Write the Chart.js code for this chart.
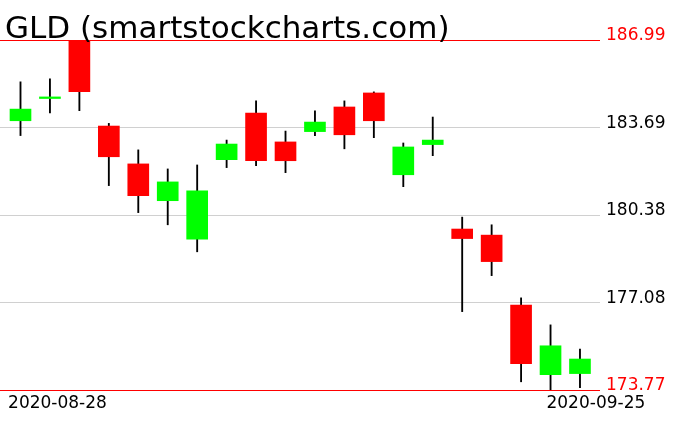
<!DOCTYPE html>
<html>
<head>
<meta charset="utf-8">
<script src="https://cdn.jsdelivr.net/npm/chart.js@4/dist/chart.umd.min.js"></script>
<style>
  html, body { margin: 0; padding: 0; background: #fff; }
  #wrap { width: 676px; height: 431px; }
</style>
</head>
<body>
<div id="wrap"><canvas id="candleChart" width="676" height="431"></canvas></div>
<script>
const titleText = 'GLD (smartstockcharts.com)';

const dates = ['2020-08-28', '2020-08-31', '2020-09-01', '2020-09-02', '2020-09-03',
    '2020-09-04', '2020-09-08', '2020-09-09', '2020-09-10', '2020-09-11',
    '2020-09-14', '2020-09-15', '2020-09-16', '2020-09-17', '2020-09-18',
    '2020-09-21', '2020-09-22', '2020-09-23', '2020-09-24', '2020-09-25'];

const opens  = [183.94, 184.78, 186.99, 183.74, 182.31, 180.92, 179.47, 182.47, 184.23, 183.14,
                183.53, 184.46, 184.99, 181.90, 183.04, 179.85, 179.62, 176.98, 174.35, 174.39];
const highs  = [185.41, 185.52, 186.99, 183.84, 182.84, 182.12, 182.27, 183.21, 184.69, 183.55,
                184.31, 184.69, 185.03, 183.10, 184.08, 180.30, 180.01, 177.25, 176.23, 175.32];
const lows   = [183.38, 184.24, 184.32, 181.49, 180.47, 180.01, 178.99, 182.17, 182.24, 181.98,
                183.38, 182.88, 183.30, 181.45, 182.62, 176.73, 178.09, 174.08, 173.77, 173.86];
const closes = [184.38, 184.84, 185.04, 182.58, 181.11, 181.63, 181.29, 183.06, 182.43, 182.43,
                183.89, 183.41, 183.94, 182.95, 183.21, 179.49, 178.62, 174.76, 175.44, 174.94];

const yTicks = [173.77, 177.08, 180.38, 183.69, 186.99];

const up = '#00ff00';
const down = '#ff0000';

const bodies = dates.map((d, i) => ({ x: i, y: [opens[i], closes[i]] }));
const wicks = dates.map((d, i) => ({ x: i, y: [lows[i], highs[i]] }));
const bodyColors = dates.map((d, i) => closes[i] >= opens[i] ? up : down);

const isEdge = (i) => i === 0 || i === yTicks.length - 1;

const titlePlugin = {
    id: 'chartTitle',
    afterDraw(chart) {
        const c = chart.ctx;
        c.save();
        c.font = '31px "DejaVu Sans", sans-serif';
        c.fillStyle = '#000';
        c.textBaseline = 'alphabetic';
        c.textAlign = 'left';
        c.fillText(titleText, 5, 38);
        c.restore();
    }
};

const ctx = document.getElementById('candleChart').getContext('2d');

new Chart(ctx, {
    type: 'bar',
    data: {
        datasets: [{
            label: 'body',
            data: bodies,
            backgroundColor: bodyColors,
            borderWidth: 0,
            barThickness: 21,
            grouped: false
        }, {
            label: 'wick',
            data: wicks,
            backgroundColor: '#000',
            borderWidth: 0,
            barThickness: 1.2,
            grouped: false
        }]
    },
    options: {
        responsive: false,
        animation: false,
        layout: { padding: { top: 40, left: 0, right: 0, bottom: 0 } },
        plugins: {
            legend: { display: false },
            tooltip: { enabled: false }
        },
        scales: {
            x: {
                type: 'linear',
                offset: false,
                bounds: 'data',
                min: -0.696,
                max: 19.68,
                grid: { display: false, offset: false },
                border: { display: false },
                afterBuildTicks: (axis) => {
                    axis.ticks = [{ value: 1.256 }, { value: 19.54 }];
                },
                afterFit: (scale) => { scale.height = 41; },
                ticks: {
                    autoSkip: false,
                    maxRotation: 0,
                    padding: -5,
                    color: '#000',
                    font: { family: '"DejaVu Sans", sans-serif', size: 17 },
                    callback: (v, i) => i === 0 ? dates[0] : dates[dates.length - 1]
                }
            },
            y: {
                position: 'right',
                min: 173.77,
                max: 186.99,
                border: { display: false },
                afterBuildTicks: (axis) => {
                    axis.ticks = yTicks.map(v => ({ value: v }));
                },
                afterFit: (scale) => { scale.width = 76; },
                grid: {
                    drawTicks: false,
                    tickLength: 0,
                    lineWidth: 1,
                    color: (c) => isEdge(c.index) ? '#ff0000' : '#d0d0d0'
                },
                ticks: {
                    padding: 6,
                    labelOffset: -4,
                    color: (c) => isEdge(c.index) ? '#ff0000' : '#000',
                    font: { family: '"DejaVu Sans", sans-serif', size: 17 },
                    callback: (v) => v.toFixed(2)
                }
            }
        }
    },
    plugins: [titlePlugin]
});
</script>
</body>
</html>
